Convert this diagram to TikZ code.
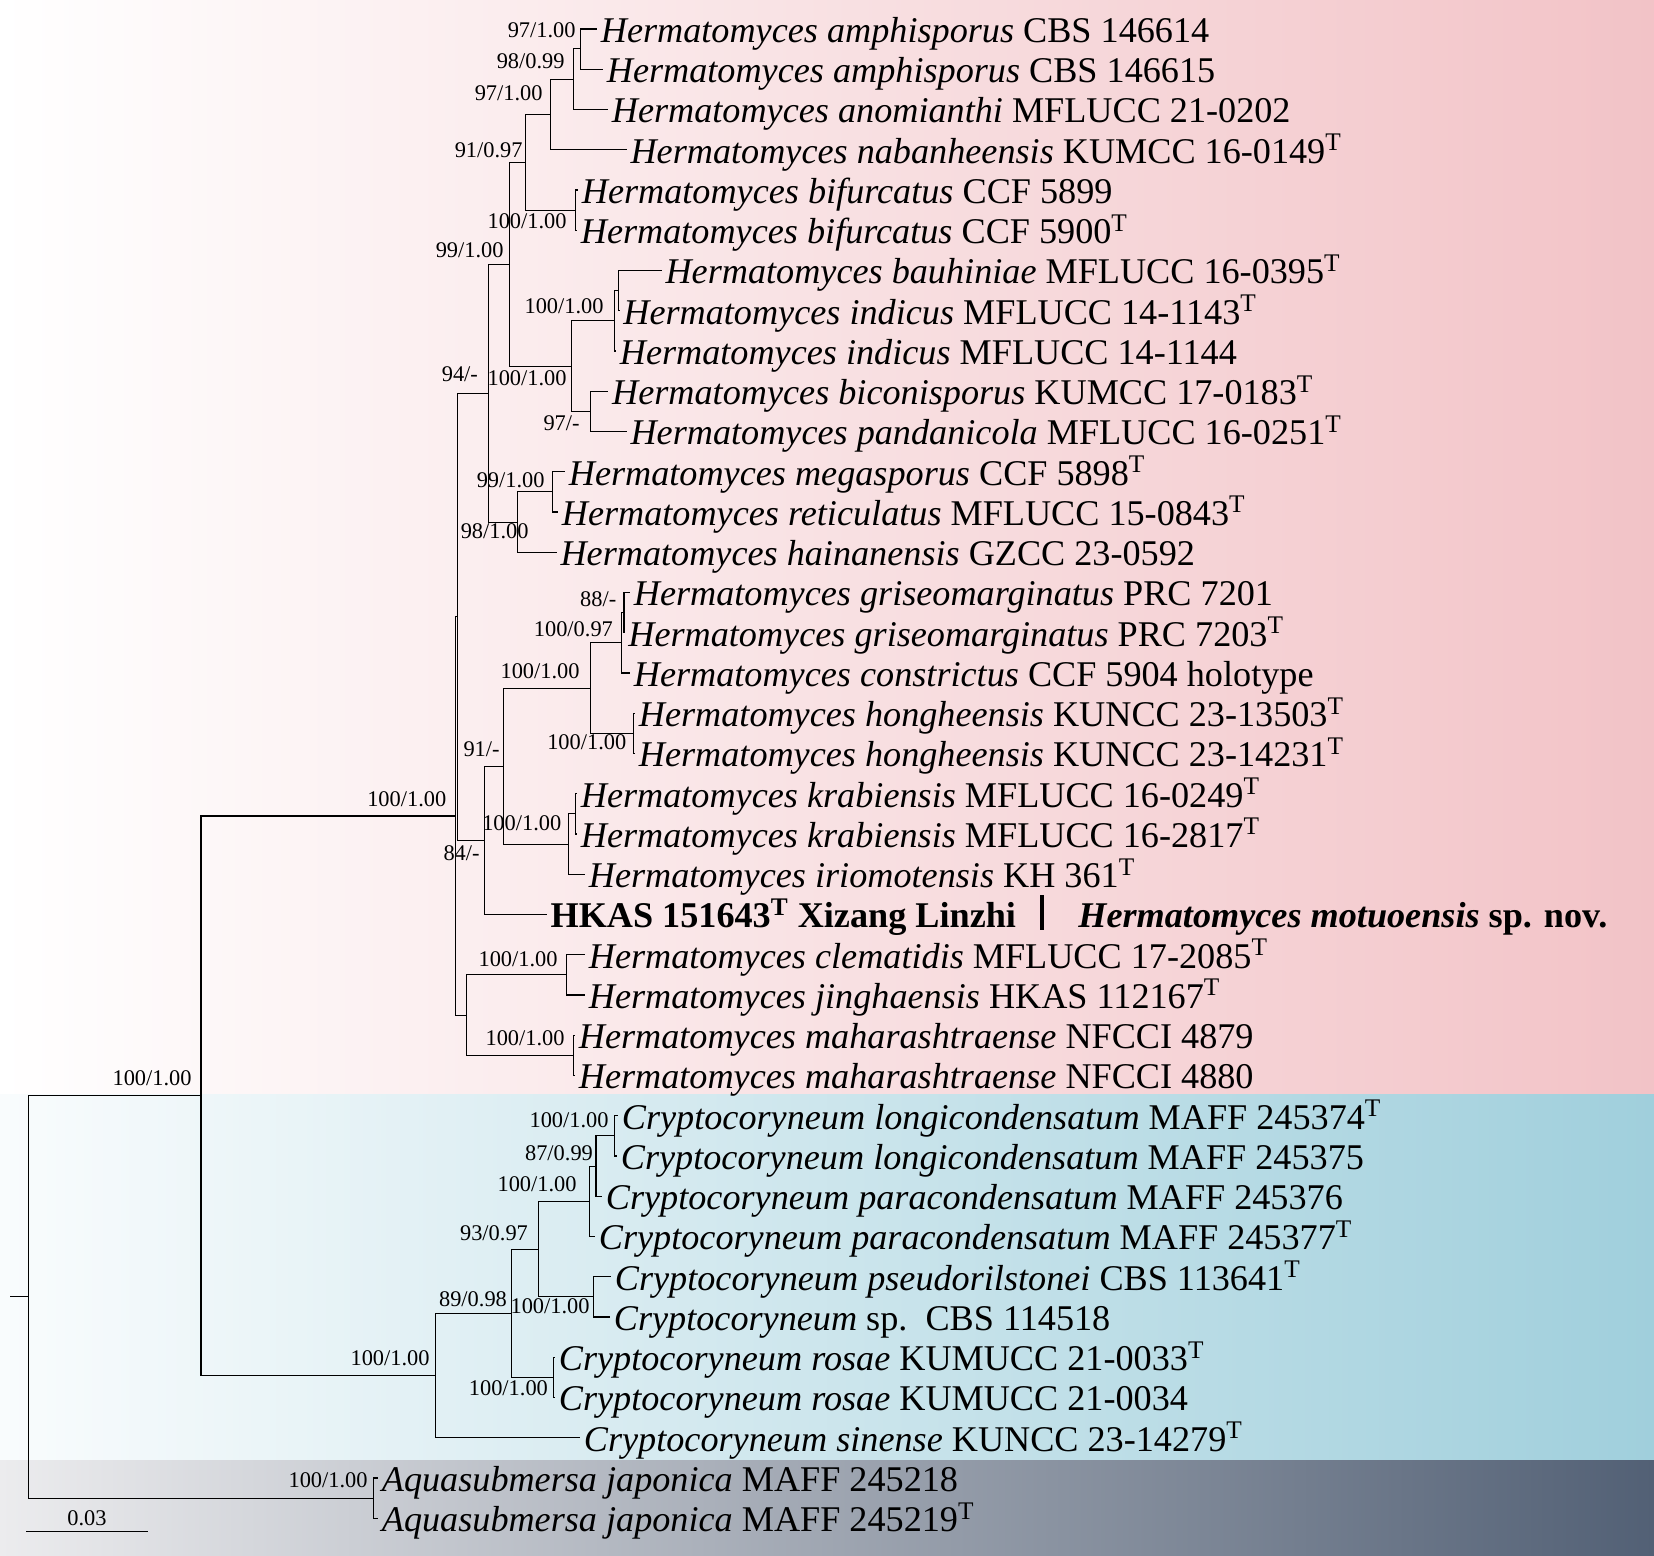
\documentclass[tikz,border=0pt]{standalone}
\usepackage{fontspec}
\setmainfont{Liberation Serif}
\begin{document}
\begin{tikzpicture}[x=0.5pt,y=-0.5pt]
\tikzset{
  br/.style={line width=0.55pt, black},
  tiplab/.style={anchor=base west, inner sep=0pt, xshift=1.75pt, yshift=-6.7pt, font=\fontsize{18.1}{21}\selectfont},
  suplab/.style={anchor=base east, inner sep=0pt, font=\fontsize{11.2}{13}\selectfont},
}
\useasboundingbox (0,0) rectangle (1654,1555);
% background bands
\shade[left color=white, middle color={rgb,255:red,249;green,227;blue,229}, right color={rgb,255:red,242;green,195;blue,199}] (0,0) rectangle (1654,1094);
\shade[left color={rgb,255:red,249;green,252;blue,253}, right color={rgb,255:red,160;green,207;blue,220}] (0,1094) rectangle (1654,1460);
\shade[left color={rgb,255:red,236;green,236;blue,238}, right color={rgb,255:red,82;green,96;blue,117}] (0,1460) rectangle (1654,1555);

% tips
\coordinate (t1) at (597,29);
\coordinate (t2) at (603,69.25);
\coordinate (t3) at (608,109.5);
\coordinate (t4) at (626.7,149.75);
\coordinate (t5) at (578,190);
\coordinate (t6) at (577,230.25);
\coordinate (t7) at (661.7,270.5);
\coordinate (t8) at (619.5,310.75);
\coordinate (t9) at (616,351);
\coordinate (t10) at (608.3,391.25);
\coordinate (t11) at (626.7,431.5);
\coordinate (t12) at (565,471.75);
\coordinate (t13) at (558,512);
\coordinate (t14) at (556.7,552.25);
\coordinate (t15) at (630,592.5);
\coordinate (t16) at (624.5,632.75);
\coordinate (t17) at (630,673);
\coordinate (t18) at (635,713.25);
\coordinate (t19) at (635,753.5);
\coordinate (t20) at (577,793.75);
\coordinate (t21) at (577,834);
\coordinate (t22) at (585,874.25);
\coordinate (t23) at (546.7,914.5);
\coordinate (t24) at (585,954.75);
\coordinate (t25) at (585,995);
\coordinate (t26) at (575,1035.25);
\coordinate (t27) at (575,1075.5);
\coordinate (t28) at (618,1115.75);
\coordinate (t29) at (617,1156);
\coordinate (t30) at (602,1196.25);
\coordinate (t31) at (595,1236.5);
\coordinate (t32) at (611,1276.75);
\coordinate (t33) at (610,1317);
\coordinate (t34) at (555,1357.25);
\coordinate (t35) at (555,1397.5);
\coordinate (t36) at (580,1437.75);
\coordinate (t37) at (378,1478);
\coordinate (t38) at (378,1518.25);

% internal nodes
\coordinate (A) at (580.3,48.8);
\coordinate (B) at (573.3,79.1);
\coordinate (C) at (550.7,114.4);
\coordinate (E) at (575.7,210.1);
\coordinate (D) at (525.7,162.3);
\coordinate (I) at (618.3,290.6);
\coordinate (H) at (614.3,320.8);
\coordinate (J) at (590.7,411.4);
\coordinate (G) at (571.3,366.1);
\coordinate (F) at (509.3,264.2);
\coordinate (M) at (552.7,491.9);
\coordinate (L) at (517.3,522.1);
\coordinate (K) at (488.3,393.2);
\coordinate (PP) at (624,612.6);
\coordinate (P) at (621.7,642.8);
\coordinate (Q) at (633.3,733.4);
\coordinate (O) at (590.7,688.1);
\coordinate (WW) at (575.7,813.9);
\coordinate (W) at (568.3,844.1);
\coordinate (V) at (503.3,766.1);
\coordinate (U) at (484.3,840.3);
\coordinate (S) at (457.7,616.8);
\coordinate (T1) at (566.7,974.9);
\coordinate (T2) at (573.3,1055.4);
\coordinate (T) at (466.7,1015.1);
\coordinate (R) at (455.3,816);
\coordinate (X1) at (614.3,1135.9);
\coordinate (X2) at (596,1166.1);
\coordinate (X3) at (589.3,1201.3);
\coordinate (X5) at (593.3,1296.9);
\coordinate (X4) at (538.3,1249.1);
\coordinate (X7) at (553.3,1377.4);
\coordinate (X6) at (511.7,1313.2);
\coordinate (X8) at (435.7,1375.5);
\coordinate (Y) at (201,1095.7);
\coordinate (Z) at (373.5,1498.1);
\coordinate (root) at (28.3,1296.9);
\coordinate (stub) at (10,1296.9);

% branches
\draw[br] (A) |- (t1) (A) |- (t2);
\draw[br] (B) |- (A) (B) |- (t3);
\draw[br] (C) |- (B) (C) |- (t4);
\draw[br] (E) |- (t5) (E) |- (t6);
\draw[br] (D) |- (C) (D) |- (E);
\draw[br] (I) |- (t7) (I) |- (t8);
\draw[br] (H) |- (I) (H) |- (t9);
\draw[br] (J) |- (t10) (J) |- (t11);
\draw[br] (G) |- (H) (G) |- (J);
\draw[br] (F) |- (D) (F) |- (G);
\draw[br] (M) |- (t12) (M) |- (t13);
\draw[br] (L) |- (M) (L) |- (t14);
\draw[br] (K) |- (F) (K) |- (L);
\draw[br] (PP) |- (t15) (PP) |- (t16);
\draw[br] (P) |- (PP) (P) |- (t17);
\draw[br] (Q) |- (t18) (Q) |- (t19);
\draw[br] (O) |- (P) (O) |- (Q);
\draw[br] (WW) |- (t20) (WW) |- (t21);
\draw[br] (W) |- (WW) (W) |- (t22);
\draw[br] (V) |- (O) (V) |- (W);
\draw[br] (U) |- (V) (U) |- (t23);
\draw[br] (S) |- (K) (S) |- (U);
\draw[br] (T1) |- (t24) (T1) |- (t25);
\draw[br] (T2) |- (t26) (T2) |- (t27);
\draw[br] (T) |- (T1) (T) |- (T2);
\draw[br] (R) |- (S) (R) |- (T);
\draw[br] (X1) |- (t28) (X1) |- (t29);
\draw[br] (X2) |- (X1) (X2) |- (t30);
\draw[br] (X3) |- (X2) (X3) |- (t31);
\draw[br] (X5) |- (t32) (X5) |- (t33);
\draw[br] (X4) |- (X3) (X4) |- (X5);
\draw[br] (X7) |- (t34) (X7) |- (t35);
\draw[br] (X6) |- (X4) (X6) |- (X7);
\draw[br] (X8) |- (X6) (X8) |- (t36);
\draw[br] (Y) |- (R) (Y) |- (X8);
\draw[br] (Z) |- (t37) (Z) |- (t38);
\draw[br] (root) |- (Y) (root) |- (Z);
\draw[br] (stub) -- (root);

% tip labels
\node[tiplab] (l1) at (t1) {\textit{Hermatomyces amphisporus} CBS 146614};
\node[tiplab] (l2) at (t2) {\textit{Hermatomyces amphisporus} CBS 146615};
\node[tiplab] (l3) at (t3) {\textit{Hermatomyces anomianthi} MFLUCC 21-0202};
\node[tiplab] (l4) at (t4) {\textit{Hermatomyces nabanheensis} KUMCC 16-0149\textsuperscript{T}};
\node[tiplab] (l5) at (t5) {\textit{Hermatomyces bifurcatus} CCF 5899};
\node[tiplab] (l6) at (t6) {\textit{Hermatomyces bifurcatus} CCF 5900\textsuperscript{T}};
\node[tiplab] (l7) at (t7) {\textit{Hermatomyces bauhiniae} MFLUCC 16-0395\textsuperscript{T}};
\node[tiplab] (l8) at (t8) {\textit{Hermatomyces indicus} MFLUCC 14-1143\textsuperscript{T}};
\node[tiplab] (l9) at (t9) {\textit{Hermatomyces indicus} MFLUCC 14-1144};
\node[tiplab] (l10) at (t10) {\textit{Hermatomyces biconisporus} KUMCC 17-0183\textsuperscript{T}};
\node[tiplab] (l11) at (t11) {\textit{Hermatomyces pandanicola} MFLUCC 16-0251\textsuperscript{T}};
\node[tiplab] (l12) at (t12) {\textit{Hermatomyces megasporus} CCF 5898\textsuperscript{T}};
\node[tiplab] (l13) at (t13) {\textit{Hermatomyces reticulatus} MFLUCC 15-0843\textsuperscript{T}};
\node[tiplab] (l14) at (t14) {\textit{Hermatomyces hainanensis} GZCC 23-0592};
\node[tiplab] (l15) at (t15) {\textit{Hermatomyces griseomarginatus} PRC 7201};
\node[tiplab] (l16) at (t16) {\textit{Hermatomyces griseomarginatus} PRC 7203\textsuperscript{T}};
\node[tiplab] (l17) at (t17) {\textit{Hermatomyces constrictus} CCF 5904 holotype};
\node[tiplab] (l18) at (t18) {\textit{Hermatomyces hongheensis} KUNCC 23-13503\textsuperscript{T}};
\node[tiplab] (l19) at (t19) {\textit{Hermatomyces hongheensis} KUNCC 23-14231\textsuperscript{T}};
\node[tiplab] (l20) at (t20) {\textit{Hermatomyces krabiensis} MFLUCC 16-0249\textsuperscript{T}};
\node[tiplab] (l21) at (t21) {\textit{Hermatomyces krabiensis} MFLUCC 16-2817\textsuperscript{T}};
\node[tiplab] (l22) at (t22) {\textit{Hermatomyces iriomotensis} KH 361\textsuperscript{T}};
\node[tiplab] (l23) at (t23) {\textbf{HKAS 151643\textsuperscript{T} Xizang Linzhi}};
\node[tiplab] (l24) at (t24) {\textit{Hermatomyces clematidis} MFLUCC 17-2085\textsuperscript{T}};
\node[tiplab] (l25) at (t25) {\textit{Hermatomyces jinghaensis} HKAS 112167\textsuperscript{T}};
\node[tiplab] (l26) at (t26) {\textit{Hermatomyces maharashtraense} NFCCI 4879};
\node[tiplab] (l27) at (t27) {\textit{Hermatomyces maharashtraense} NFCCI 4880};
\node[tiplab] (l28) at (t28) {\textit{Cryptocoryneum longicondensatum} MAFF 245374\textsuperscript{T}};
\node[tiplab] (l29) at (t29) {\textit{Cryptocoryneum longicondensatum} MAFF 245375};
\node[tiplab] (l30) at (t30) {\textit{Cryptocoryneum paracondensatum} MAFF 245376};
\node[tiplab] (l31) at (t31) {\textit{Cryptocoryneum paracondensatum} MAFF 245377\textsuperscript{T}};
\node[tiplab] (l32) at (t32) {\textit{Cryptocoryneum pseudorilstonei} CBS 113641\textsuperscript{T}};
\node[tiplab] (l33) at (t33) {\textit{Cryptocoryneum} sp.\ \ CBS 114518};
\node[tiplab] (l34) at (t34) {\textit{Cryptocoryneum rosae} KUMUCC 21-0033\textsuperscript{T}};
\node[tiplab] (l35) at (t35) {\textit{Cryptocoryneum rosae} KUMUCC 21-0034};
\node[tiplab] (l36) at (t36) {\textit{Cryptocoryneum sinense} KUNCC 23-14279\textsuperscript{T}};
\node[tiplab] (l37) at (t37) {\textit{Aquasubmersa japonica} MAFF 245218};
\node[tiplab] (l38) at (t38) {\textit{Aquasubmersa japonica} MAFF 245219\textsuperscript{T}};

% new species marker
\draw[line width=2.3pt] (1042,895) -- (1042,930);
\node[anchor=base west, inner sep=0pt, font=\fontsize{18.1}{21}\selectfont\bfseries] (nov) at (1078,927.9) {\textit{Hermatomyces motuoensis} sp. nov.};

% support values
\node[suplab] (s1) at (576,37.4) {97/1.00};
\node[suplab] (s2) at (565,68.3) {98/0.99};
\node[suplab] (s3) at (543,100) {97/1.00};
\node[suplab] (s4) at (523,157.3) {91/0.97};
\node[suplab] (s5) at (567,228.3) {100/1.00};
\node[suplab] (s6) at (504,257.3) {99/1.00};
\node[suplab] (s7) at (604,313.3) {100/1.00};
\node[suplab] (s8) at (567,385) {100/1.00};
\node[suplab] (s9) at (478.3,381.7) {94/-};
\node[suplab] (s10) at (580,430) {97/-};
\node[suplab] (s11) at (545,487.7) {99/1.00};
\node[suplab] (s12) at (529,538.3) {98/1.00};
\node[suplab] (s13) at (616.7,606.7) {88/-};
\node[suplab] (s14) at (613.3,636.7) {100/0.97};
\node[suplab] (s15) at (580,678.3) {100/1.00};
\node[suplab] (s16) at (626.7,749) {100/1.00};
\node[suplab] (s17) at (500,756.7) {91/-};
\node[suplab] (s18) at (446.7,806.7) {100/1.00};
\node[suplab] (s19) at (561.7,830) {100/1.00};
\node[suplab] (s20) at (480,860) {84/-};
\node[suplab] (s21) at (558,966.7) {100/1.00};
\node[suplab] (s22) at (565,1045) {100/1.00};
\node[suplab] (s23) at (192,1085) {100/1.00};
\node[suplab] (s24) at (609,1127.3) {100/1.00};
\node[suplab] (s25) at (593.3,1160) {87/0.99};
\node[suplab] (s26) at (577,1191.7) {100/1.00};
\node[suplab] (s27) at (528.3,1240) {93/0.97};
\node[suplab] (s28) at (507.3,1306) {89/0.98};
\node[suplab] (s29) at (590,1313.3) {100/1.00};
\node[suplab] (s30) at (430,1365) {100/1.00};
\node[suplab] (s31) at (548.3,1395) {100/1.00};
\node[suplab] (s32) at (368,1487) {100/1.00};

% scale bar
\coordinate (sb1) at (26.4,1531.6);
\coordinate (sb2) at (147.7,1531.6);
\draw[br] (sb1) -- (sb2);
\node[anchor=base, inner sep=0pt, font=\fontsize{11.2}{13}\selectfont] (sbl) at (87,1525.5) {0.03};
\end{tikzpicture}
\end{document}
